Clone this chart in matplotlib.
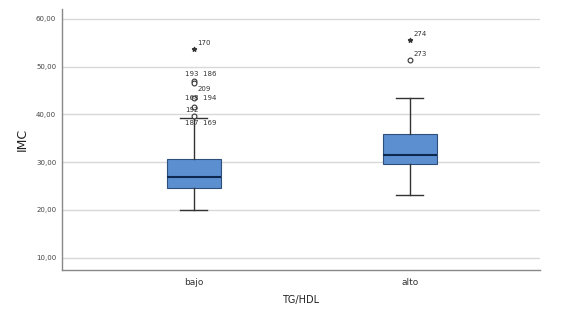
import matplotlib.pyplot as plt
from matplotlib.ticker import FuncFormatter

# grupos TG/HDL
groups = ['bajo', 'alto']
q1 = [24.5, 29.7]
med = [27.0, 31.6]
q3 = [30.7, 35.9]
whislo = [19.9, 23.1]
whishi = [39.2, 43.4]

# casos atipicos (circulos) y extremos (estrellas)
out_x = [0, 0, 0, 0, 0, 1]
out_y = [46.9, 46.5, 43.4, 41.5, 39.6, 51.3]
out_lbl = ['193  186', '209', '168  194', '192', '187  169', '273']
ext_x = [0, 1]
ext_y = [53.6, 55.6]
ext_lbl = ['170', '274']

fig = plt.figure(figsize=(5.67, 3.10), dpi=100)
ax = fig.add_axes([0.109, 0.13, 0.843, 0.84])

stats = []
for i, g in enumerate(groups):
    stats.append(dict(label=g, q1=q1[i], med=med[i], q3=q3[i],
                      whislo=whislo[i], whishi=whishi[i], fliers=[]))

ax.bxp(stats, positions=[0, 1], widths=0.25, patch_artist=True, showfliers=False,
       boxprops=dict(facecolor='#5b8fd0', edgecolor='#2f4f7a', linewidth=0.8),
       medianprops=dict(color='#0f2850', linewidth=1.5),
       whiskerprops=dict(color='#333333', linewidth=1.0),
       capprops=dict(color='#333333', linewidth=1.0),
       capwidths=0.125, zorder=3)

ax.scatter(out_x, out_y, s=12, facecolors='white', edgecolors='#333333',
           linewidths=0.8, zorder=4)
ax.scatter(ext_x, ext_y, s=9, marker='*', color='#333333', zorder=4)

offs = {'193  186': (-0.04, 1.5), '209': (0.015, -1.2), '168  194': (-0.04, 0.0),
        '192': (-0.04, -0.6), '187  169': (-0.04, -1.3), '273': (0.015, 1.3)}
for x, y, t in zip(out_x, out_y, out_lbl):
    dx, dy = offs[t]
    ax.text(x + dx, y + dy, t, fontsize=5, color='#333333', va='center', zorder=5)
for x, y, t in zip(ext_x, ext_y, ext_lbl):
    ax.text(x + 0.015, y + 1.3, t, fontsize=5, color='#333333', va='center', zorder=5)

ax.set_xlim(-0.611, 1.601)
ax.set_ylim(7.5, 62)
ax.set_yticks([10, 20, 30, 40, 50, 60])
ax.yaxis.set_major_formatter(FuncFormatter(lambda v, p: f'{v:.2f}'.replace('.', ',')))
ax.tick_params(axis='y', labelsize=5, length=0, pad=4, colors='#444444')
ax.tick_params(axis='x', labelsize=6.5, length=0, pad=6, colors='#333333')
ax.grid(axis='y', color='#d8d8d8', linewidth=1.0, zorder=0)
ax.set_axisbelow(True)

for s in ['top', 'right']:
    ax.spines[s].set_visible(False)
for s in ['left', 'bottom']:
    ax.spines[s].set_color('#888888')
    ax.spines[s].set_linewidth(1.0)

ax.set_ylabel('IMC', fontsize=9, color='#222222', labelpad=5)
ax.set_xlabel('TG/HDL', fontsize=7, color='#222222', labelpad=6)

fig.savefig('out.png', dpi=100)
